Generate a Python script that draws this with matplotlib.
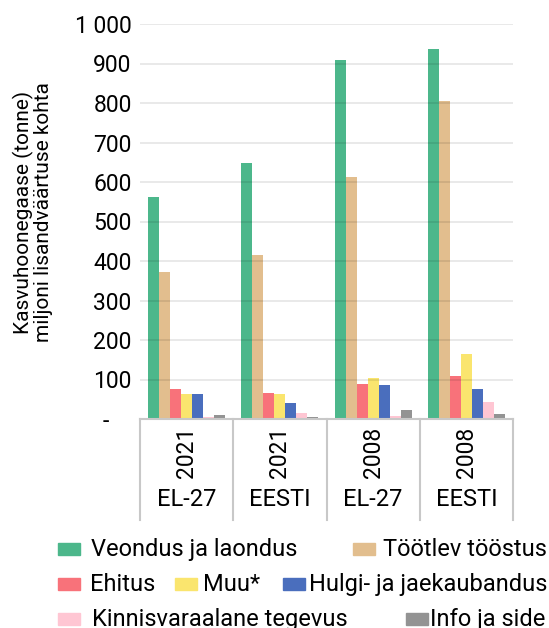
import matplotlib
matplotlib.use("Agg")
import matplotlib.pyplot as plt
from matplotlib.patches import Rectangle

plt.rcParams['font.family'] = ['Roboto', 'DejaVu Sans']

# Andmed
aastad = ['2021', '2021', '2008', '2008']
piirkonnad = ['EL-27', 'EESTI', 'EL-27', 'EESTI']
sektorid = ['Veondus ja laondus', 'Töötlev tööstus', 'Ehitus', 'Muu*',
            'Hulgi- ja jaekaubandus', 'Kinnisvaraalane tegevus', 'Info ja side']
veondus = [562, 648, 909, 937]
tootlev = [372, 415, 613, 805]
ehitus = [75, 67, 89, 109]
muu = [64, 64, 104, 165]
hulgi = [64, 41, 87, 77]
kinnisvara = [5, 16, 8, 44]
info = [10, 4, 22, 13]
varvid = ['#4cb78b', '#e2be8e', '#f8727a', '#fae56e', '#4a6ebd', '#ffc6d3', '#939393']
y_ticks = [0, 100, 200, 300, 400, 500, 600, 700, 800, 900, 1000]
y_labels = ['-    ', '100', '200', '300', '400', '500', '600', '700', '800', '900', '1 000']

seeriad = [veondus, tootlev, ehitus, muu, hulgi, kinnisvara, info]

W, H = 549, 628
fig = plt.figure(figsize=(W / 100, H / 100), dpi=100)
ax = fig.add_axes([140 / W, (H - 419) / H, (513 - 140) / W, (419 - 24) / H])

laius = 0.118
for j, (vaartused, varv) in enumerate(zip(seeriad, varvid)):
    x = [i + (j - 3) * laius for i in range(len(vaartused))]
    ax.bar(x, vaartused, width=laius, color=varv, zorder=1)

ax.set_xlim(-0.5, 3.5)
ax.set_ylim(0, 1000)
ax.set_yticks(y_ticks)
ax.set_yticklabels(y_labels, fontsize=16.5)
ax.tick_params(axis='y', length=0, pad=6)
ax.set_xticks([])
ax.grid(axis='y', color='black', alpha=0.1, linewidth=1.2, zorder=3)
ax.set_axisbelow(False)
for s in ['top', 'right', 'left']:
    ax.spines[s].set_visible(False)
ax.spines['bottom'].set_color('#c8c8c8')
ax.spines['bottom'].set_linewidth(1.5)
ax.spines['bottom'].set_zorder(4)

# Kategooriate kastid
trans = ax.get_xaxis_transform()
kasti_alumine = -101 / 395
for k in range(len(aastad) + 1):
    ax.plot([k - 0.5, k - 0.5], [0, kasti_alumine], transform=trans,
            color='#c8c8c8', lw=1.5, clip_on=False)
for i, (a, p) in enumerate(zip(aastad, piirkonnad)):
    ax.text(i, -33 / 395, a, transform=trans, rotation=90, ha='center',
            va='center', fontsize=16.5)
    ax.text(i, -80 / 395, p, transform=trans, ha='center', va='center',
            fontsize=17)

fig.text(33 / W, 1 - 212 / H, 'Kasvuhoonegaase (tonne)\nmiljoni lisandväärtuse kohta',
         rotation=90, ha='center', va='center', fontsize=15,
         multialignment='center', linespacing=1.0)

# Legend käsitsi
kohad = [(58, 91, 549), (353, 383, 549),
         (58, 90, 584), (175, 203, 584), (283, 309, 584),
         (58, 92, 619), (406, 430, 619)]
for (px, tx, ry), nimi, varv in zip(kohad, sektorid, varvid):
    fig.add_artist(Rectangle((px / W, 1 - (ry + 6) / H), 22 / W, 12 / H,
                             transform=fig.transFigure, color=varv))
    fig.text(tx / W, 1 - (ry + 7) / H, nimi, ha='left', va='baseline', fontsize=17)

fig.savefig('out.png', dpi=100)
